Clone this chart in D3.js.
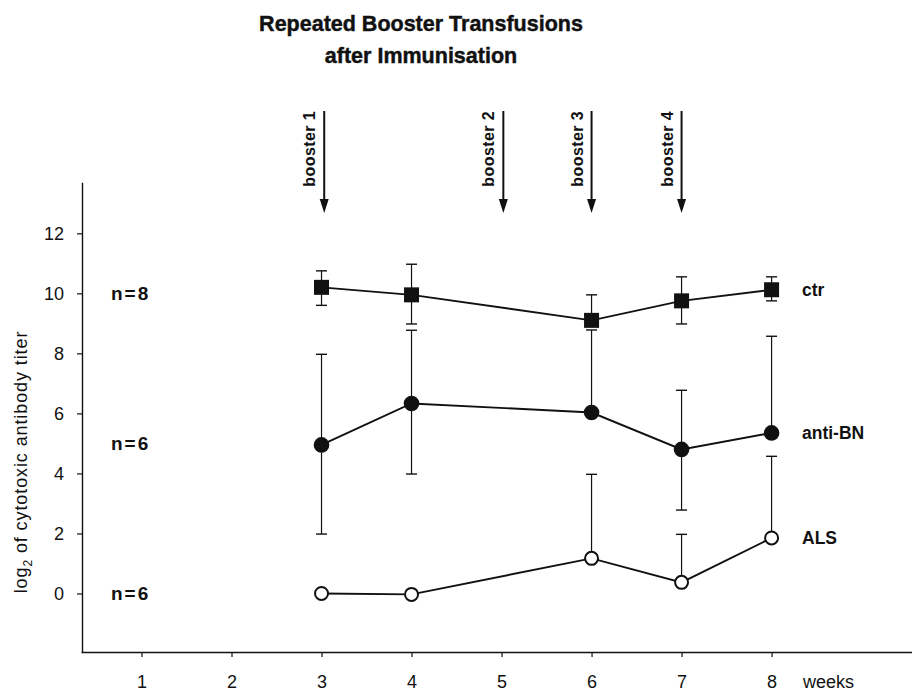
<!DOCTYPE html>
<html>
<head>
<meta charset="utf-8">
<script src="https://cdn.jsdelivr.net/npm/d3@7"></script>
<style>
  html, body { margin: 0; padding: 0; background: #fff; }
  svg { display: block; }
  text { fill: #111; }
</style>
</head>
<body>
<svg id="chart" width="912" height="691"></svg>
<script>
// Sampling weeks and group means (log2 cytotoxic antibody titer)
const weeks = [3, 4, 6, 7, 8];
const xTickWeeks = [1, 2, 3, 4, 5, 6, 7, 8];
const yTickValues = [0, 2, 4, 6, 8, 10, 12];

const ctrMean  = [10.2, 9.95, 9.1, 9.75, 10.12];
const ctrHigh  = [10.75, 10.97, 9.95, 10.55, 10.55];
const ctrLow   = [9.6, 8.98, null, 8.98, 9.75];

const antiMean = [4.95, 6.33, 6.03, 4.8, 5.35];
const antiHigh = [7.97, 8.77, 8.78, 6.77, 8.57];
const antiLow  = [1.98, 3.98, null, 2.78, null];

const alsMean  = [0, -0.03, 1.17, 0.37, 1.85];
const alsHigh  = [null, null, 3.97, 1.97, 4.57];
const alsLow   = [null, null, null, null, null];

// Booster transfusion times (weeks)
const boosterWeeks  = [3.03, 5.02, 6.0, 7.0];
const boosterLabels = ["booster 1", "booster 2", "booster 3", "booster 4"];

const groupNames = ["ctr", "anti-BN", "ALS"];
const groupN     = ["n=8", "n=6", "n=6"];
const nLabelLevel = [10, 5, 0];

const svg = d3.select("#chart");

const x = d3.scaleLinear().domain([0.328, 9.56]).range([81, 912]);
const y = d3.scaleLinear().domain([-1.95, 13.7]).range([652, 182.3]);

const FONT = "'Liberation Sans', Arial, Helvetica, sans-serif";

// Title
const title = svg.append("text")
  .attr("text-anchor", "middle")
  .style("font-family", FONT).style("font-weight", "bold").style("font-size", "21.5px")
  .attr("stroke", "#111").attr("stroke-width", 0.45);
title.append("tspan").attr("x", 421).attr("y", 31).text("Repeated Booster Transfusions");
title.append("tspan").attr("x", 421).attr("y", 63).text("after Immunisation");

// Y axis
const yAxis = svg.append("g")
  .attr("transform", `translate(${x(0.328) + 1},0)`)
  .call(d3.axisLeft(y).tickValues(yTickValues).tickSize(5).tickSizeOuter(0).tickPadding(13));
yAxis.select(".domain").attr("stroke", "#111").attr("stroke-width", 1.4);
yAxis.selectAll(".tick line").attr("stroke", "#111").attr("stroke-width", 1.2);
yAxis.selectAll(".tick text")
  .style("font-family", FONT).style("font-size", "18px").attr("fill", "#111");

// X axis
const xAxis = svg.append("g")
  .attr("transform", `translate(0,${y(-1.95)})`)
  .call(d3.axisBottom(x).tickValues(xTickWeeks).tickSize(5).tickSizeOuter(0).tickFormat(d3.format("d")));
xAxis.select(".domain").attr("stroke", "#111").attr("stroke-width", 1.4);
xAxis.selectAll(".tick line").attr("stroke", "#111").attr("stroke-width", 1.2);
xAxis.selectAll(".tick text")
  .attr("y", 36).attr("dy", 0)
  .style("font-family", FONT).style("font-size", "18px").attr("fill", "#111");

svg.append("text")
  .attr("x", 803).attr("y", 688)
  .style("font-family", FONT).style("font-size", "18px")
  .text("weeks");

// Y axis title with subscript
const yTitle = svg.append("text")
  .attr("transform", `translate(27,${462}) rotate(-90)`)
  .attr("text-anchor", "middle")
  .style("font-family", FONT).style("font-size", "18px").style("letter-spacing", "0.9px");
yTitle.append("tspan").text("log");
yTitle.append("tspan").attr("dy", 5).style("font-size", "12px").text("2");
yTitle.append("tspan").attr("dy", -5).text(" of cytotoxic antibody titer");

// Booster arrows
const boosters = svg.append("g").selectAll("g")
  .data(boosterWeeks.map((w, i) => ({ w, label: boosterLabels[i] })))
  .join("g");
boosters.append("line")
  .attr("x1", d => x(d.w)).attr("x2", d => x(d.w))
  .attr("y1", 111).attr("y2", 203)
  .attr("stroke", "#111").attr("stroke-width", 2);
boosters.append("path")
  .attr("d", d => `M${x(d.w) - 4.5},199 L${x(d.w) + 4.5},199 L${x(d.w)},213 Z`)
  .attr("fill", "#111");
boosters.append("text")
  .attr("transform", d => `translate(${x(d.w) - 9},111) rotate(-90)`)
  .attr("text-anchor", "end")
  .style("font-family", FONT).style("font-weight", "bold").style("font-size", "16px")
  .style("letter-spacing", "0.4px")
  .text(d => d.label);

// Series
const series = [
  { name: groupNames[0], mean: ctrMean,  hi: ctrHigh,  lo: ctrLow,  shape: "square" },
  { name: groupNames[1], mean: antiMean, hi: antiHigh, lo: antiLow, shape: "dot" },
  { name: groupNames[2], mean: alsMean,  hi: alsHigh,  lo: alsLow,  shape: "ring" }
];

const errG = svg.append("g");
const lineG = svg.append("g");
const markG = svg.append("g");
const CAP = 5.5;

series.forEach(s => {
  const pts = weeks.map((w, i) => ({ w, v: s.mean[i], hi: s.hi[i], lo: s.lo[i] }));

  // error bars (only the drawn side)
  pts.forEach(p => {
    [p.hi, p.lo].forEach(b => {
      if (b === null) return;
      errG.append("line")
        .attr("x1", x(p.w)).attr("x2", x(p.w))
        .attr("y1", y(p.v)).attr("y2", y(b))
        .attr("stroke", "#111").attr("stroke-width", 1.2);
      errG.append("line")
        .attr("x1", x(p.w) - CAP).attr("x2", x(p.w) + CAP)
        .attr("y1", y(b)).attr("y2", y(b))
        .attr("stroke", "#111").attr("stroke-width", 1.4);
    });
  });

  lineG.append("path")
    .datum(pts)
    .attr("fill", "none").attr("stroke", "#111").attr("stroke-width", 1.9)
    .attr("d", d3.line().x(d => x(d.w)).y(d => y(d.v)));

  if (s.shape === "square") {
    markG.selectAll(null).data(pts).join("rect")
      .attr("x", d => x(d.w) - 7.5).attr("y", d => y(d.v) - 7.5)
      .attr("width", 15).attr("height", 15).attr("fill", "#111");
  } else if (s.shape === "dot") {
    markG.selectAll(null).data(pts).join("circle")
      .attr("cx", d => x(d.w)).attr("cy", d => y(d.v)).attr("r", 7.8).attr("fill", "#111");
  } else {
    markG.selectAll(null).data(pts).join("circle")
      .attr("cx", d => x(d.w)).attr("cy", d => y(d.v)).attr("r", 6.5)
      .attr("fill", "#fff").attr("stroke", "#111").attr("stroke-width", 2);
  }

  // group name at right of the last point
  const last = pts[pts.length - 1];
  svg.append("text")
    .attr("x", 802).attr("y", y(last.v)).attr("dy", "0.35em")
    .style("font-family", FONT).style("font-weight", "bold").style("font-size", "17.5px")
    .text(s.name);
});

// Group sizes on the left
svg.append("g").selectAll("text")
  .data(groupN.map((t, i) => ({ t, lv: nLabelLevel[i] })))
  .join("text")
  .attr("x", 111).attr("y", d => y(d.lv)).attr("dy", "0.36em")
  .style("font-family", FONT).style("font-weight", "bold").style("font-size", "19px")
  .style("letter-spacing", "2px")
  .text(d => d.t);
</script>
</body>
</html>
